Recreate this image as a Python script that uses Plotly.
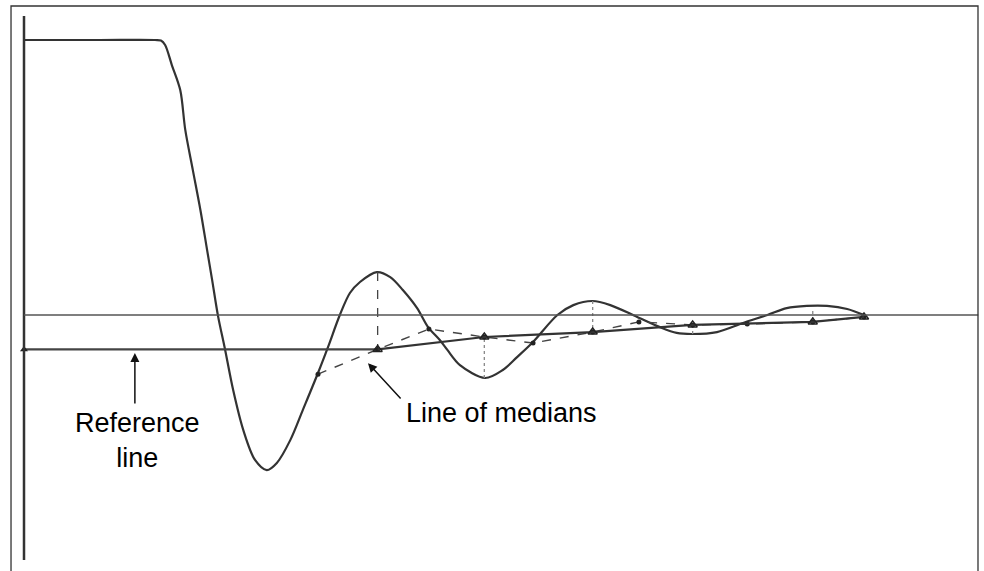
import plotly.graph_objects as go

# step response (time, response; plateau = 1, settled = 0)
curve_t = [0, 0.9, 1.56, 1.63, 1.68, 1.76, 1.86, 1.92, 2.01, 2.10, 2.18, 2.24, 2.31,
           2.39, 2.49, 2.61, 2.75, 2.89, 3.01, 3.17, 3.32, 3.50, 3.62, 3.76, 3.88,
           4.0, 4.2, 4.36, 4.51, 4.68, 4.81, 4.95, 5.04, 5.19, 5.49, 5.70, 5.87,
           6.06, 6.35, 6.54, 6.77, 6.98, 7.30, 7.57, 7.77, 7.96, 8.25, 8.56, 8.85,
           9.08, 9.32, 9.56, 9.80, 10.0]
curve_r = [1.0, 1.0, 1.0, 0.998, 0.982, 0.909, 0.818, 0.673, 0.527, 0.382, 0.236,
           0.127, -0.004, -0.12, -0.273, -0.418, -0.527, -0.564, -0.538, -0.455,
           -0.345, -0.211, -0.116, 0.0, 0.08, 0.12, 0.156, 0.138, 0.091, 0.025,
           -0.044, -0.091, -0.127, -0.182, -0.229, -0.2, -0.153, -0.098, 0.0,
           0.036, 0.051, 0.036, -0.007, -0.044, -0.065, -0.069, -0.062, -0.029,
           0.0, 0.025, 0.033, 0.033, 0.022, 0.0]

# sampled points joined by the dashed line
sample_t = [3.5, 4.21, 4.82, 5.48, 6.06, 6.77, 7.32, 7.96, 8.61, 9.39, 10.0]
sample_r = [-0.215, -0.125, -0.051, -0.08, -0.102, -0.062, -0.025, -0.036, -0.033,
            -0.025, -0.007]

# medians (subset of samples) and the curve extremes above/below them
median_t = [4.21, 5.48, 6.77, 7.96, 9.39, 10.0]
median_r = [-0.125, -0.08, -0.062, -0.036, -0.025, -0.007]
peak_r = [0.156, -0.229, 0.051, -0.069, 0.015]

ref_level = -0.125
settled = 0.0

INK = "#333333"
FONT = "Liberation Sans, Arial, sans-serif"

fig = go.Figure()

# curve
fig.add_trace(go.Scatter(x=curve_t, y=curve_r, mode="lines",
                         line=dict(color=INK, width=2.2, shape="spline", smoothing=0.9)))

# reference line
fig.add_trace(go.Scatter(x=[0, median_t[0]], y=[ref_level, ref_level], mode="lines",
                         line=dict(color="#444444", width=2.2)))
fig.add_trace(go.Scatter(x=[0], y=[ref_level], mode="markers",
                         marker=dict(symbol="triangle-up", size=7, color="#222222")))

# vertical connectors: first dashed, others dotted
fig.add_trace(go.Scatter(x=[median_t[0], median_t[0]], y=[peak_r[0], median_r[0]],
                         mode="lines", line=dict(color="#444444", width=1.3, dash="dash")))
vx, vy = [], []
for t, p, m in zip(median_t[1:], peak_r[1:], median_r[1:]):
    vx += [t, t, None]
    vy += [p, m, None]
fig.add_trace(go.Scatter(x=vx, y=vy, mode="lines",
                         line=dict(color="#888888", width=1.3, dash="dot")))

# dashed line through samples
fig.add_trace(go.Scatter(x=sample_t, y=sample_r, mode="lines+markers",
                         line=dict(color="#444444", width=1.4, dash="dash"),
                         marker=dict(symbol="circle", size=5, color="#222222")))

# line of medians
fig.add_trace(go.Scatter(x=median_t, y=median_r, mode="lines+markers",
                         line=dict(color=INK, width=2.2),
                         marker=dict(symbol="triangle-up-open", size=8,
                                     color="#222222", line=dict(width=1.5))))

# axis line and settled level
fig.add_shape(type="line", x0=0, x1=0, y0=-0.891, y1=1.087,
              line=dict(color=INK, width=2.5))
fig.add_shape(type="line", x0=0, x1=11.36, y0=settled, y1=settled,
              line=dict(color="#555555", width=1.3))
# outer frame
fig.add_shape(type="rect", xref="paper", yref="paper", x0=0.0112, x1=0.9939,
              y0=-0.02, y1=0.9895, line=dict(color=INK, width=1.3))

# arrows
fig.add_annotation(x=1.32, y=-0.138, ax=1.32, ay=-0.327, axref="x", ayref="y",
                   text="", showarrow=True, arrowhead=2, arrowsize=1.2,
                   arrowwidth=1.5, arrowcolor="#111111")
fig.add_annotation(x=4.095, y=-0.175, ax=4.5, ay=-0.309, axref="x", ayref="y",
                   text="", showarrow=True, arrowhead=2, arrowsize=1.2,
                   arrowwidth=1.5, arrowcolor="#111111")

fig.add_annotation(x=1.357, y=-0.458, text="Reference<br>line", showarrow=False,
                   font=dict(family=FONT, size=27, color="#000000"))
fig.add_annotation(x=5.68, y=-0.358, text="Line of medians", showarrow=False,
                   font=dict(family=FONT, size=27, color="#000000"))

fig.update_layout(
    width=984, height=571,
    margin=dict(l=0, r=0, t=0, b=0),
    paper_bgcolor="white", plot_bgcolor="white",
    showlegend=False,
    hovermode=False,
    xaxis=dict(range=[-0.2857, 11.4286], visible=False),
    yaxis=dict(range=[-0.9309, 1.1455], visible=False),
)

# drop the page's default body margin so the figure sits at the window corner
fig.write_html("out.html", config={"displayModeBar": False},
               post_script="document.body.style.margin = '0';")
